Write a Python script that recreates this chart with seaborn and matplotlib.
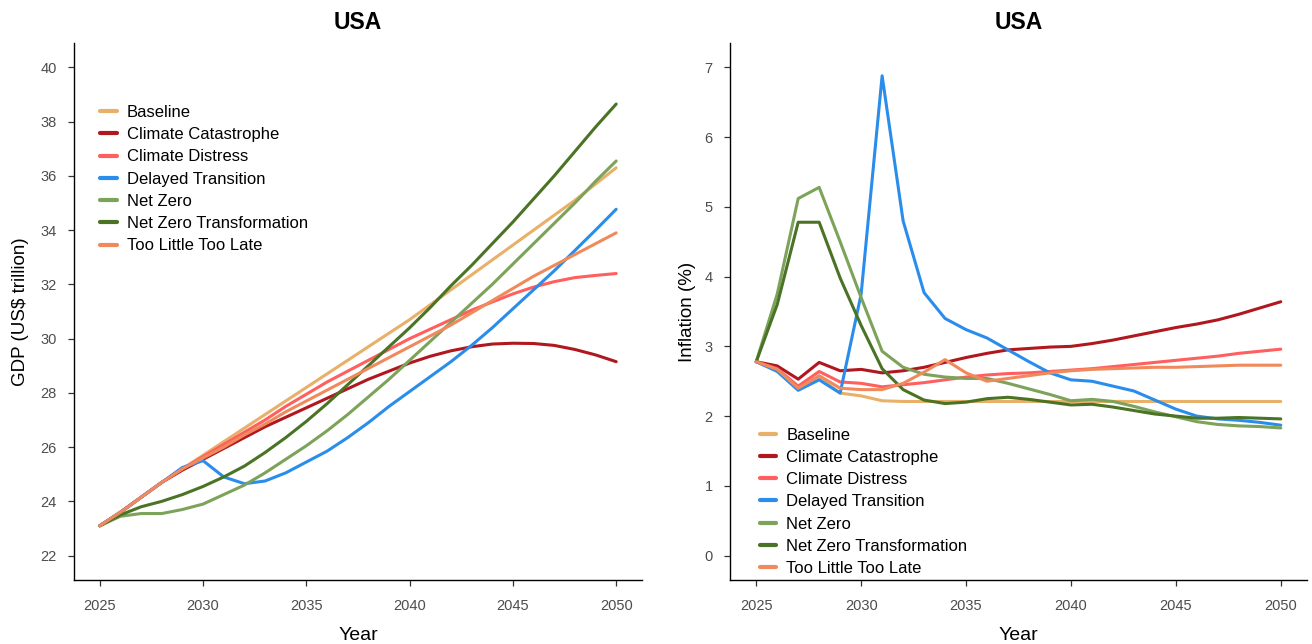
import numpy as np
import pandas as pd
import matplotlib
matplotlib.use("Agg")
import matplotlib.pyplot as plt
import seaborn as sns

years = list(range(2025, 2051))
scenarios = ["Baseline", "Climate Catastrophe", "Climate Distress", "Delayed Transition",
             "Net Zero", "Net Zero Transformation", "Too Little Too Late"]
colors = ["#E8B068", "#B0171F", "#FF5F5F", "#2B8DEB", "#7DA25A", "#4A7325", "#F08A5D"]

gdp_baseline = [23.1, 23.6, 24.15, 24.7, 25.2, 25.7, 26.2, 26.7, 27.2, 27.7, 28.2, 28.7, 29.2,
                29.7, 30.2, 30.7, 31.25, 31.8, 32.35, 32.9, 33.45, 34.0, 34.55, 35.1, 35.7, 36.3]
gdp_catastrophe = [23.1, 23.6, 24.15, 24.7, 25.15, 25.55, 25.95, 26.35, 26.75, 27.1, 27.45, 27.8,
                   28.15, 28.5, 28.8, 29.1, 29.35, 29.55, 29.7, 29.8, 29.83, 29.82, 29.75, 29.6,
                   29.4, 29.15]
gdp_distress = [23.1, 23.6, 24.15, 24.7, 25.2, 25.65, 26.1, 26.55, 27.0, 27.5, 27.95, 28.4, 28.8,
                29.2, 29.6, 30.0, 30.35, 30.7, 31.05, 31.35, 31.65, 31.9, 32.1, 32.25, 32.33, 32.4]
gdp_delayed = [23.1, 23.6, 24.15, 24.7, 25.25, 25.5, 24.9, 24.65, 24.75, 25.05, 25.45, 25.85,
               26.35, 26.9, 27.5, 28.05, 28.6, 29.15, 29.75, 30.4, 31.1, 31.8, 32.5, 33.25,
               34.0, 34.77]
gdp_netzero = [23.1, 23.45, 23.55, 23.55, 23.7, 23.9, 24.25, 24.6, 25.05, 25.55, 26.05, 26.6,
               27.2, 27.85, 28.5, 29.2, 29.9, 30.6, 31.3, 32.0, 32.75, 33.5, 34.25, 35.0,
               35.8, 36.55]
gdp_nzt = [23.1, 23.5, 23.8, 24.0, 24.25, 24.55, 24.9, 25.3, 25.8, 26.35, 26.95, 27.6, 28.3,
           29.0, 29.7, 30.4, 31.15, 31.95, 32.7, 33.5, 34.3, 35.15, 36.0, 36.9, 37.8, 38.65]
gdp_tltl = [23.1, 23.6, 24.15, 24.7, 25.2, 25.6, 26.0, 26.45, 26.85, 27.3, 27.7, 28.1, 28.5,
            28.9, 29.3, 29.7, 30.1, 30.5, 30.95, 31.4, 31.85, 32.3, 32.7, 33.1, 33.5, 33.9]

inf_baseline = [2.78, 2.66, 2.40, 2.55, 2.33, 2.29, 2.22, 2.21, 2.21, 2.21, 2.21, 2.21, 2.21,
                2.21, 2.21, 2.21, 2.21, 2.21, 2.21, 2.21, 2.21, 2.21, 2.21, 2.21, 2.21, 2.21]
inf_catastrophe = [2.78, 2.72, 2.53, 2.77, 2.65, 2.67, 2.62, 2.65, 2.70, 2.77, 2.84, 2.90, 2.95,
                   2.97, 2.99, 3.00, 3.04, 3.09, 3.15, 3.21, 3.27, 3.32, 3.38, 3.46, 3.55, 3.64]
inf_distress = [2.78, 2.68, 2.43, 2.64, 2.49, 2.47, 2.42, 2.45, 2.48, 2.52, 2.56, 2.59, 2.61,
                2.62, 2.64, 2.66, 2.68, 2.71, 2.74, 2.77, 2.80, 2.83, 2.86, 2.90, 2.93, 2.96]
inf_delayed = [2.78, 2.64, 2.37, 2.52, 2.33, 3.75, 6.88, 4.80, 3.77, 3.40, 3.24, 3.12, 2.95,
               2.78, 2.62, 2.52, 2.50, 2.43, 2.36, 2.23, 2.10, 2.00, 1.96, 1.94, 1.91, 1.87]
inf_netzero = [2.78, 3.75, 5.12, 5.28, 4.50, 3.70, 2.93, 2.70, 2.60, 2.56, 2.54, 2.54, 2.47,
               2.39, 2.31, 2.22, 2.24, 2.21, 2.14, 2.06, 1.99, 1.92, 1.88, 1.86, 1.85, 1.83]
inf_nzt = [2.78, 3.60, 4.78, 4.78, 3.98, 3.30, 2.68, 2.38, 2.23, 2.18, 2.20, 2.25, 2.27, 2.24,
           2.20, 2.16, 2.17, 2.13, 2.08, 2.03, 2.00, 1.97, 1.97, 1.98, 1.97, 1.96]
inf_tltl = [2.78, 2.67, 2.40, 2.58, 2.40, 2.38, 2.38, 2.47, 2.63, 2.81, 2.62, 2.50, 2.54, 2.58,
            2.62, 2.65, 2.67, 2.68, 2.69, 2.70, 2.70, 2.71, 2.72, 2.73, 2.73, 2.73]

gdp_series = [gdp_baseline, gdp_catastrophe, gdp_distress, gdp_delayed, gdp_netzero, gdp_nzt, gdp_tltl]
inf_series = [inf_baseline, inf_catastrophe, inf_distress, inf_delayed, inf_netzero, inf_nzt, inf_tltl]

rows = []
for s, g, i in zip(scenarios, gdp_series, inf_series):
    for y, gv, iv in zip(years, g, i):
        rows.append({"Scenario": s, "Year": y, "GDP": gv, "Inflation": iv})
df = pd.DataFrame(rows)

sns.set_style("ticks")
plt.rcParams["font.family"] = ["Liberation Sans", "DejaVu Sans"]
plt.rcParams["text.color"] = "black"
plt.rcParams["axes.labelcolor"] = "black"

fig = plt.figure(figsize=(13.12, 6.44), dpi=100)
ax1 = fig.add_axes([74 / 1312, 64 / 644, 568 / 1312, 537 / 644])
ax2 = fig.add_axes([730 / 1312, 64 / 644, 577 / 1312, 537 / 644])
palette = dict(zip(scenarios, colors))

for ax, col, ylab, ylim, yticks, ylpad in [
    (ax1, "GDP", "GDP (US\\$ trillion)", (21.1, 40.9), np.arange(22, 41, 2), 8),
    (ax2, "Inflation", "Inflation (%)", (-0.35, 7.35), np.arange(0, 8, 1), 6),
]:
    sns.lineplot(data=df, x="Year", y=col, hue="Scenario", hue_order=scenarios,
                 palette=palette, linewidth=2.2, ax=ax, legend=True)
    ax.set_xlim(2023.75, 2051.25)
    ax.set_ylim(*ylim)
    ax.set_xticks(range(2025, 2051, 5))
    ax.set_yticks(yticks)
    ax.tick_params(axis="both", labelsize=10.5, labelcolor="#4D4D4D", length=4.5,
                   width=0.9, color="#333333", direction="out", pad=8)
    ax.tick_params(axis="x", pad=9)
    for sp in ["top", "right"]:
        ax.spines[sp].set_visible(False)
    for sp in ["left", "bottom"]:
        ax.spines[sp].set_linewidth(1.0)
        ax.spines[sp].set_color("black")
    ax.set_xlabel("Year", fontsize=14, labelpad=10, color="black")
    ax.set_ylabel(ylab, fontsize=13.5, labelpad=ylpad, color="black")
    ax.set_title("USA", fontsize=16.5, fontweight="bold", pad=10, color="black")
    ax.grid(False)

leg1 = ax1.legend(loc="upper left", bbox_to_anchor=(0.034, 0.897), frameon=False, fontsize=12,
                  handlelength=1.0, handletextpad=0.6, labelspacing=0.435, borderaxespad=0)
leg2 = ax2.legend(loc="lower left", bbox_to_anchor=(0.040, -0.005), frameon=False, fontsize=12,
                  handlelength=1.0, handletextpad=0.6, labelspacing=0.435, borderaxespad=0)
for leg in (leg1, leg2):
    for line in leg.get_lines():
        line.set_linewidth(3)
    for t in leg.get_texts():
        t.set_color("black")

fig.savefig("out.png", dpi=100)
